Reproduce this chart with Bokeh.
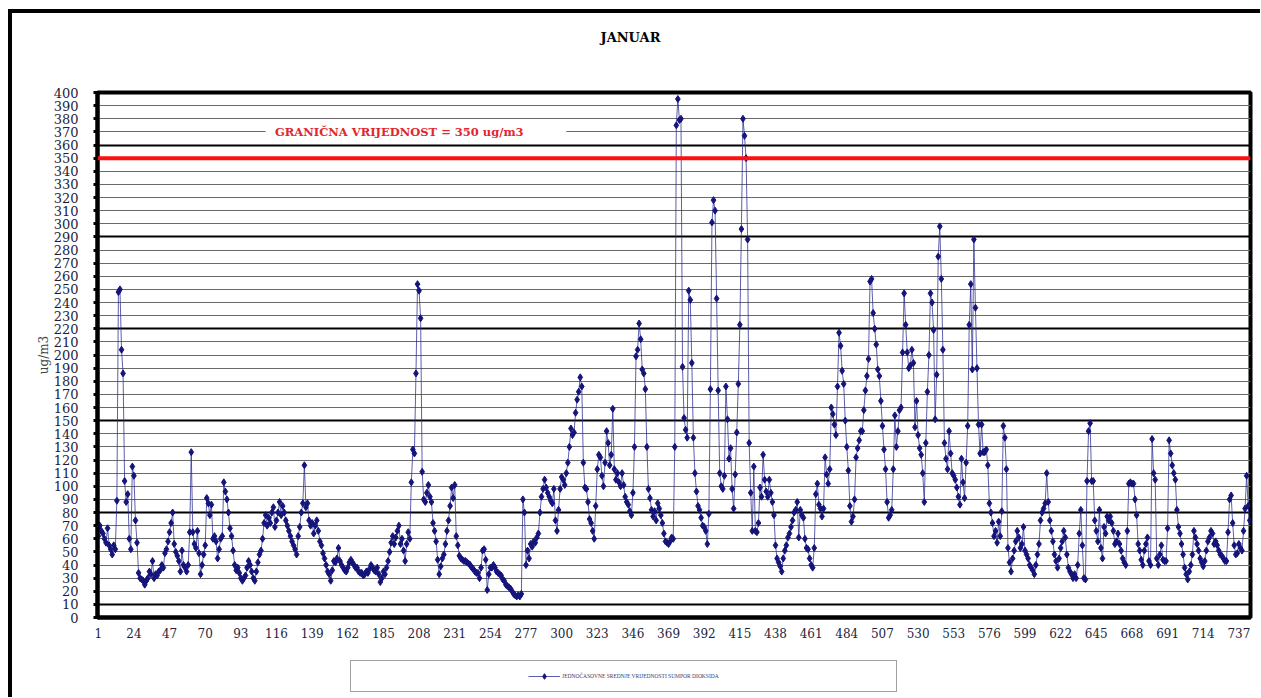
from bokeh.plotting import figure
from bokeh.layouts import column
from bokeh.models import (Range1d, FixedTicker, Span, Label, BoxAnnotation,
                          Legend, LegendItem, Grid, Title)
from bokeh.embed import file_html
from bokeh.resources import INLINE

# ---------------- texts ----------------
title_text = "JANUAR"
y_axis_title = "ug/m3"
limit_value = 350
limit_label = "GRANIČNA VRIJEDNOST = 350 ug/m3"
series_label = "JEDNOČASOVNE SREDNJE VRIJEDNOSTI SUMPOR DIOKSIDA"

# ---------------- axis ticks ----------------
x_ticks = [1, 24, 47, 70, 93, 116, 139, 162, 185, 208, 231, 254, 277, 300, 323,
           346, 369, 392, 415, 438, 461, 484, 507, 530, 553, 576, 599, 622, 645,
           668, 691, 714, 737]
y_ticks = list(range(0, 401, 10))

# ---------------- hourly SO2 values (ug/m3) ----------------
so2_h001_073 = [62, 70, 66, 64, 60, 57, 68, 55, 52, 48,
                55, 52, 89, 248, 250, 204, 186, 104, 88, 94,
                60, 52, 115, 108, 74, 57, 34, 30, 29, 28,
                25, 28, 30, 35, 33, 43, 30, 33, 32, 35,
                36, 40, 38, 49, 52, 58, 65, 72, 80, 56,
                50, 47, 43, 35, 51, 40, 38, 35, 40, 65,
                126, 65, 56, 53, 66, 49, 33, 40, 48, 55,
                91, 87, 78]
so2_h074_149 = [86, 60, 62, 58, 45, 52, 60, 62, 103, 96,
                90, 80, 68, 62, 51, 40, 36, 38, 34, 30,
                28, 30, 32, 38, 43, 40, 35, 30, 28, 35,
                42, 48, 51, 60, 72, 78, 70, 76, 72, 80,
                84, 69, 74, 80, 88, 78, 85, 80, 74, 70,
                66, 62, 58, 55, 52, 48, 62, 69, 80, 87,
                116, 84, 87, 74, 70, 72, 64, 70, 74, 66,
                58, 55, 49, 45, 40, 35]
so2_h150_224 = [33, 28, 36, 43, 42, 45, 53, 43, 40, 38,
                36, 35, 38, 42, 44, 42, 40, 38, 38, 35,
                34, 34, 32, 33, 35, 34, 37, 40, 38, 36,
                35, 38, 33, 27, 30, 35, 33, 38, 43, 50,
                57, 62, 56, 61, 66, 70, 56, 60, 51, 43,
                56, 65, 60, 103, 128, 125, 186, 254, 249, 228,
                111, 90, 88, 95, 101, 92, 88, 72, 66, 58,
                44, 33, 39, 45, 48]
so2_h225_300 = [56, 66, 74, 85, 99, 91, 101, 62, 55, 47,
                45, 44, 43, 43, 42, 41, 40, 38, 37, 35,
                34, 34, 30, 38, 51, 52, 44, 21, 33, 38,
                38, 40, 38, 35, 34, 33, 32, 29, 28, 25,
                24, 23, 22, 20, 18, 17, 16, 17, 16, 18,
                90, 80, 40, 51, 45, 56, 54, 58, 57, 61,
                64, 80, 92, 98, 105, 99, 95, 92, 89, 87,
                98, 74, 66, 82, 98, 107]
so2_h301_376 = [105, 101, 110, 118, 130, 144, 139, 141, 156, 166,
                172, 183, 176, 118, 99, 98, 88, 75, 72, 66,
                60, 85, 113, 124, 122, 108, 100, 118, 142, 133,
                116, 124, 159, 113, 105, 110, 103, 100, 110, 101,
                92, 88, 86, 81, 78, 95, 130, 199, 204, 224,
                212, 189, 186, 174, 130, 98, 91, 82, 77, 81,
                74, 87, 83, 78, 72, 64, 58, 57, 56, 58,
                61, 60, 130, 375, 395, 379]
so2_h377_452 = [380, 191, 152, 143, 137, 249, 242, 194, 137, 110,
                96, 85, 82, 76, 70, 69, 66, 56, 79, 174,
                301, 318, 310, 243, 173, 110, 100, 98, 108, 176,
                151, 121, 129, 98, 83, 109, 141, 178, 223, 296,
                380, 367, 350, 288, 133, 95, 66, 115, 66, 65,
                72, 99, 92, 124, 105, 96, 92, 105, 95, 88,
                78, 55, 45, 42, 39, 35, 45, 51, 55, 61,
                64, 69, 74, 80, 82, 88]
so2_h453_527 = [61, 82, 78, 76, 60, 53, 52, 45, 40, 38,
                53, 94, 102, 86, 83, 77, 83, 122, 109, 102,
                113, 160, 155, 147, 139, 176, 217, 207, 188, 178,
                150, 130, 112, 85, 73, 77, 90, 122, 129, 135,
                142, 142, 158, 173, 184, 197, 256, 258, 232, 220,
                208, 189, 184, 165, 146, 128, 113, 88, 76, 78,
                82, 113, 154, 130, 142, 158, 160, 202, 247, 223,
                202, 190, 192, 204, 194]
so2_h528_603 = [145, 165, 139, 129, 124, 110, 88, 133, 172, 200,
                247, 240, 219, 151, 185, 275, 298, 258, 204, 133,
                121, 113, 142, 125, 110, 108, 105, 99, 92, 86,
                121, 103, 91, 118, 146, 223, 254, 189, 288, 236,
                190, 147, 125, 147, 126, 126, 128, 116, 87, 80,
                72, 62, 66, 57, 73, 62, 81, 146, 137, 113,
                53, 42, 35, 45, 51, 58, 66, 61, 53, 56,
                69, 51, 48, 45, 40, 38]
so2_h604_678 = [36, 33, 40, 48, 56, 74, 80, 83, 87, 110,
                88, 74, 66, 58, 48, 43, 38, 45, 53, 58,
                66, 61, 48, 38, 35, 33, 30, 33, 30, 40,
                64, 82, 55, 30, 29, 104, 142, 148, 104, 104,
                74, 66, 58, 82, 53, 45, 69, 64, 77, 74,
                77, 72, 66, 56, 58, 64, 56, 51, 45, 42,
                40, 66, 102, 103, 102, 102, 90, 78, 56, 51,
                44, 40, 51, 56, 61]
so2_h679_744 = [43, 40, 136, 110, 105, 45, 40, 48, 55, 44,
                43, 43, 68, 135, 125, 116, 110, 105, 82, 69,
                64, 56, 48, 38, 33, 29, 35, 40, 48, 66,
                61, 56, 51, 45, 42, 39, 43, 51, 58, 61,
                66, 64, 56, 58, 55, 51, 48, 47, 45, 43,
                43, 65, 90, 93, 72, 55, 48, 49, 56, 53,
                51, 66, 83, 108, 85, 74]

so2 = (so2_h001_073 + so2_h074_149 + so2_h150_224 + so2_h225_300 + so2_h301_376
       + so2_h377_452 + so2_h453_527 + so2_h528_603 + so2_h604_678 + so2_h679_744)
hours = list(range(1, len(so2) + 1))

LINE_STYLE = dict(line_color="#2a2a92", line_width=1, line_alpha=0.75)
MARKER_STYLE = dict(marker="diamond", size=7, fill_color="#14147a", line_color="#14147a")

# ---------------- main chart ----------------
p = figure(width=1248, height=639, title=None,
           x_range=Range1d(0.5, len(so2) + 0.5), y_range=Range1d(0, 400),
           output_backend="svg", toolbar_location=None,
           min_border_left=85, min_border_right=10,
           min_border_top=79, min_border_bottom=35)
p.background_fill_color = "white"
p.border_fill_color = "white"
p.outline_line_color = "black"
p.outline_line_width = 4

# title (a blank title keeps the real one away from the frame)
p.add_layout(Title(text=" ", text_font_size="13px", standoff=26), "above")
p.add_layout(Title(text=title_text, align="left", offset=503,
                   text_font="DejaVu Serif", text_font_style="bold",
                   text_font_size="13px", text_color="black"), "above")

# axes
p.xaxis.ticker = FixedTicker(ticks=x_ticks)
p.yaxis.ticker = FixedTicker(ticks=y_ticks)
for ax in (p.xaxis, p.yaxis):
    ax.axis_line_color = "black"
    ax.axis_line_width = 4
    ax.minor_tick_line_color = None
    ax.major_label_text_font = "DejaVu Serif"
    ax.major_label_text_color = "#1e1e3c"
p.yaxis.major_tick_in = 0
p.yaxis.major_tick_out = 4
p.yaxis.major_tick_line_width = 3
p.yaxis.major_tick_line_color = "black"
p.yaxis.major_label_standoff = 15
p.yaxis.major_label_text_font_size = "13px"
p.yaxis.axis_label = y_axis_title
p.yaxis.axis_label_text_font = "DejaVu Serif"
p.yaxis.axis_label_text_font_style = "normal"
p.yaxis.axis_label_text_font_size = "12px"
p.yaxis.axis_label_standoff = 0
p.xaxis.major_tick_in = 0
p.xaxis.major_tick_out = 0
p.xaxis.major_label_standoff = 10
p.xaxis.major_label_text_font_size = "12px"

# grid
p.xgrid.visible = False
p.ygrid.grid_line_color = "#6a6a6a"
p.ygrid.grid_line_width = 1
p.ygrid.grid_line_alpha = 1
dark_grid = Grid(dimension=1, ticker=FixedTicker(ticks=[10, 80, 150, 220, 290, 360]),
                 grid_line_color="black", grid_line_width=2)
p.add_layout(dark_grid)

# limit line and its label
p.add_layout(Span(location=limit_value, dimension="width",
                  line_color="#ff1010", line_width=4))
p.add_layout(BoxAnnotation(left=109, right=303, bottom=366, top=374,
                           fill_color="white", fill_alpha=1, line_alpha=0))
p.add_layout(Label(x=115, y=370, text=limit_label, text_baseline="middle",
                   text_align="left", text_font="DejaVu Serif",
                   text_font_style="bold", text_font_size="11.5px",
                   text_color="#e3262e"))

# series
p.line(hours, so2, **LINE_STYLE)
p.scatter(hours, so2, **MARKER_STYLE)

# ---------------- legend strip under the chart ----------------
# the key renderers draw the same series, but far outside this strip's view
lg = figure(width=1248, height=45, output_backend="svg", toolbar_location=None,
            x_range=Range1d(0.5, len(so2) + 0.5), y_range=Range1d(1000, 1001),
            x_axis_location=None, y_axis_location=None, min_border=0)
lg.grid.visible = False
lg.outline_line_color = None
lg.background_fill_color = "white"
lg.border_fill_color = "white"
key_line = lg.line(hours, so2, **LINE_STYLE)
key_pts = lg.scatter(hours, so2, **MARKER_STYLE)
blank_a = lg.line(hours, so2, line_alpha=0)
blank_b = lg.line(hours, so2, line_alpha=0)
legend = Legend(items=[LegendItem(label=" ", renderers=[blank_a]),
                       LegendItem(label=series_label, renderers=[key_line, key_pts]),
                       LegendItem(label=" ", renderers=[blank_b])],
                orientation="horizontal", location=(253, 5),
                glyph_width=32, glyph_height=14, label_standoff=2,
                label_width=135, spacing=0, padding=8, margin=0,
                border_line_color="#444444", border_line_width=1,
                background_fill_color="white", background_fill_alpha=1,
                label_text_font="Liberation Serif", label_text_font_size="5.5px",
                label_text_color="#3a3a6a")
lg.add_layout(legend)

page = column(p, lg, spacing=0,
              styles={"margin-left": "8px", "margin-top": "9px",
                      "border-left": "4px solid black", "border-top": "4px solid black"})

open("out.html", "w").write(file_html(page, INLINE))
